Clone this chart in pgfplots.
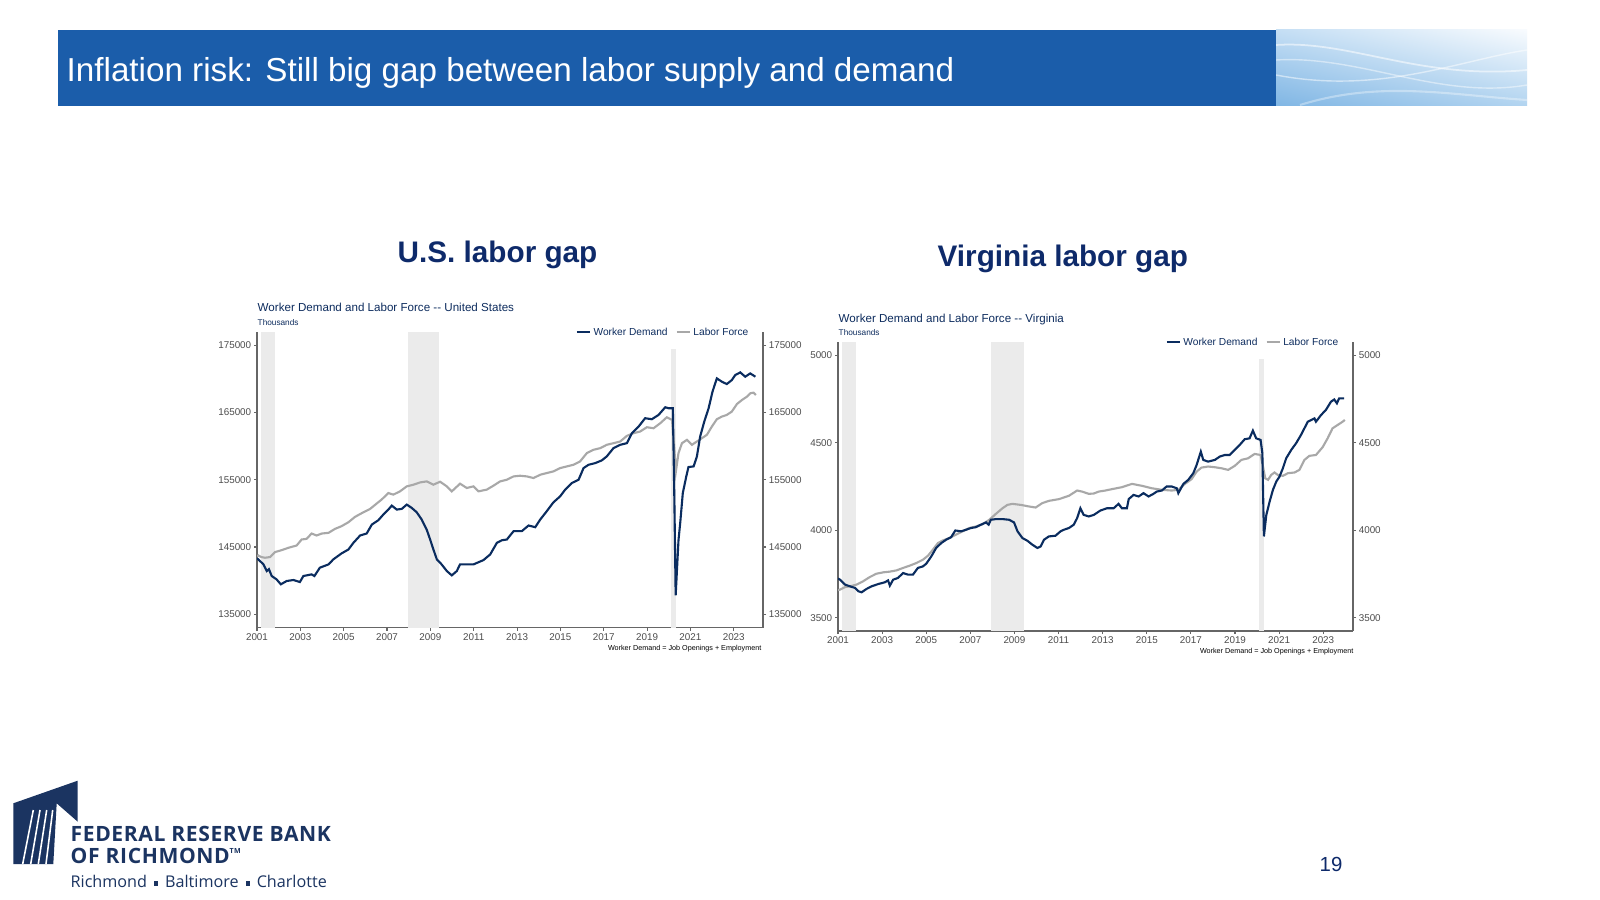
\documentclass[border=0pt]{standalone}
\usepackage{fontspec}
\setmainfont{Liberation Sans}
\newfontfamily\logofont{Open Sans}
\usepackage{pgfplots}
\pgfplotsset{compat=1.18}
\usetikzlibrary{shadings}
\definecolor{bannerblue}{HTML}{1B5DAA}
\definecolor{titlenavy}{HTML}{0E2A6A}
\definecolor{subnavy}{HTML}{0D2C5E}
\definecolor{linenavy}{HTML}{0A2C5F}
\definecolor{linegray}{HTML}{A8A8A8}
\definecolor{shadegray}{HTML}{EBEBEB}
\definecolor{tickgray}{HTML}{4D4D4D}
\definecolor{axgray}{HTML}{666666}
\definecolor{logonavy}{HTML}{1B3461}
\definecolor{gUL}{RGB}{196,222,244}
\definecolor{gUR}{RGB}{248,251,254}
\definecolor{gLL}{RGB}{128,182,228}
\definecolor{gLR}{RGB}{178,212,240}
\pgfplotsset{
  labgap/.style={
    scale only axis, xmin=2001, xmax=2024.35,
    axis line style={-, draw=axgray, line width=0.35pt},
    tick style={draw=axgray, line width=0.3pt},
    major tick length=0.3mm, tick align=outside,
    ticklabel style={font=\fontsize{2.8}{3}\selectfont, text=tickgray, inner sep=0.6pt},
    /pgf/number format/fixed,
    /pgf/number format/precision=0,
    /pgf/number format/assume math mode=true,
    /pgf/number format/1000 sep={},
    scaled ticks=false,
    clip=true,
  },
  lableg/.style={
    legend style={at={(0.985,0.99)}, anchor=east, draw=none, fill=white,
      font=\fontsize{2.9}{3.2}\selectfont, text=subnavy, inner xsep=1.2pt, inner ysep=1.7pt,
      /tikz/every even column/.append style={column sep=0.6mm},
      nodes={inner xsep=0.6pt, inner ysep=0.5pt}},
    legend columns=2,
    legend image code/.code={\draw[##1] (0mm,0.8pt) -- (1.35mm,0.8pt);},
  },
}
\begin{document}
\begin{tikzpicture}[x=0.1mm,y=-0.1mm]
\path[fill=white] (0,0) rectangle (1600,900);
% banner
\fill[bannerblue] (58,30) rectangle (1276,105.7);
\shade[upper left=gUL, upper right=gUR, lower left=gLL, lower right=gLR]
  (1276,30) rectangle (1527,105.7);
\begin{scope}
\clip (1276,30) rectangle (1527,105.7);
\draw[white, opacity=0.55, line width=0.5pt] (1276,45) .. controls (1350,40) and (1420,80) .. (1527,70);
\draw[white, opacity=0.45, line width=0.4pt] (1276,60) .. controls (1360,55) and (1440,100) .. (1527,85);
\draw[white, opacity=0.5, line width=0.4pt] (1276,75) .. controls (1380,95) and (1460,60) .. (1527,50);
\draw[white, opacity=0.35, line width=0.6pt] (1300,105) .. controls (1380,80) and (1450,95) .. (1527,100);
\end{scope}
\node[anchor=base west, inner sep=0, text=white, font=\fontsize{9.45}{11}\selectfont] at (66,82) {Inflation risk: Still big gap between labor supply and demand};
% chart titles
\node[anchor=base west, inner sep=0, text=titlenavy, font=\bfseries\fontsize{8.45}{10}\selectfont] at (397,263) {U.S. labor gap};
\node[anchor=base west, inner sep=0, text=titlenavy, font=\bfseries\fontsize{8.45}{10}\selectfont] at (937,267) {Virginia labor gap};
% subtitles
\node[anchor=base west, inner sep=0, text=subnavy, font=\fontsize{3.3}{4}\selectfont] at (257,311) {Worker Demand and Labor Force -{}- United States};
\node[anchor=base west, inner sep=0, text=subnavy, font=\fontsize{2.35}{3}\selectfont] at (257,325.5) {Thousands};
\node[anchor=base west, inner sep=0, text=subnavy, font=\fontsize{3.3}{4}\selectfont] at (838,322) {Worker Demand and Labor Force -{}- Virginia};
\node[anchor=base west, inner sep=0, text=subnavy, font=\fontsize{2.35}{3}\selectfont] at (838,336) {Thousands};
% footnotes
\node[anchor=base east, inner sep=0, text=black, font=\fontsize{2.05}{2.5}\selectfont] at (762,650) {Worker Demand = Job Openings + Employment};
\node[anchor=base east, inner sep=0, text=black, font=\fontsize{2.05}{2.5}\selectfont] at (1354,653) {Worker Demand = Job Openings + Employment};

% ===== US chart =====
\coordinate (usSW) at (257,627.7);
\begin{axis}[labgap, lableg, at={(usSW)}, anchor=south west, width=50.6mm, height=29.6mm,
  ymin=133000, ymax=177000,
  axis x line*=bottom, axis y line*=left,
  xtick={2001,2003,...,2023}, ytick={135000,145000,...,175000},
]
\addplot[draw=none, fill=shadegray, forget plot] coordinates {(2001.17,133000) (2001.17,177000) (2001.83,177000) (2001.83,133000)} -- cycle;
\addplot[draw=none, fill=shadegray, forget plot] coordinates {(2007.95,133000) (2007.95,177000) (2009.42,177000) (2009.42,133000)} -- cycle;
\addplot[draw=none, fill=shadegray, forget plot] coordinates {(2020.1,133000) (2020.1,177000) (2020.33,177000) (2020.33,133000)} -- cycle;
\addplot[linegray, line width=0.6pt, forget plot] coordinates {
(2001.0,143600) (2001.06,143740) (2001.2,143500) (2001.37,143400) (2001.6,143500) (2001.83,144240)
(2002.14,144530) (2002.45,144880) (2002.83,145220) (2003.06,146110) (2003.29,146210) (2003.52,147000)
(2003.75,146710) (2003.99,147000) (2004.3,147100) (2004.6,147690) (2004.9,148090) (2005.22,148680)
(2005.52,149470) (2005.91,150160) (2006.22,150660) (2006.52,151450) (2006.75,152040) (2007.06,153020)
(2007.29,152780) (2007.6,153270) (2007.91,154010) (2008.22,154260) (2008.53,154600) (2008.83,154750)
(2009.14,154260) (2009.45,154700) (2009.76,154010) (2009.99,153270) (2010.37,154410) (2010.68,153770)
(2010.99,154010) (2011.22,153270) (2011.6,153520) (2011.91,154110) (2012.22,154750) (2012.53,155000)
(2012.84,155490) (2013.14,155590) (2013.45,155490) (2013.76,155250) (2014.07,155740) (2014.37,155990)
(2014.68,156240) (2014.99,156730) (2015.3,156980) (2015.6,157220) (2015.91,157720) (2016.22,158950)
(2016.53,159450) (2016.84,159690) (2017.14,160190) (2017.45,160430) (2017.76,160680) (2018.07,161520)
(2018.38,161920) (2018.68,162160) (2018.99,162800) (2019.3,162650) (2019.61,163400) (2019.91,164280)
(2020.15,163890) (2020.25,159940) (2020.33,156240) (2020.45,158950) (2020.61,160430) (2020.84,160920)
(2021.07,160190) (2021.3,160680) (2021.53,161170) (2021.76,161670) (2021.99,162900) (2022.22,163990)
(2022.45,164380) (2022.68,164630) (2022.91,165120) (2023.15,166260) (2023.38,166850) (2023.61,167350)
(2023.76,167840) (2023.91,167940) (2024.02,167590)};
\addplot[linenavy, line width=0.6pt, forget plot] coordinates {
(2001.0,143300) (2001.06,143150) (2001.3,142410) (2001.45,141420) (2001.55,141700) (2001.68,140680)
(2001.9,140190) (2002.1,139450) (2002.37,139940) (2002.68,140090) (2002.98,139790) (2003.14,140680)
(2003.52,140930) (2003.65,140680) (2003.9,141920) (2004.3,142410) (2004.52,143150) (2004.9,144040)
(2005.22,144630) (2005.45,145620) (2005.76,146710) (2006.06,147000) (2006.3,148330) (2006.6,148980)
(2006.83,149820) (2007.06,150560) (2007.22,151150) (2007.45,150560) (2007.68,150660) (2007.91,151300)
(2008.14,150810) (2008.37,150160) (2008.6,149080) (2008.83,147590) (2008.99,146110) (2009.14,144630)
(2009.3,143150) (2009.52,142410) (2009.76,141420) (2009.99,140780) (2010.22,141420) (2010.37,142410)
(2010.6,142410) (2010.99,142410) (2011.45,143050) (2011.76,143890) (2012.07,145620) (2012.3,146000)
(2012.53,146110) (2012.84,147350) (2013.22,147350) (2013.53,148190) (2013.84,147940) (2014.07,149080)
(2014.37,150310) (2014.68,151640) (2014.99,152530) (2015.22,153520) (2015.53,154510) (2015.84,155000)
(2016.07,156730) (2016.3,157220) (2016.61,157470) (2016.91,157870) (2017.14,158460) (2017.45,159690)
(2017.76,160190) (2018.07,160430) (2018.3,161920) (2018.61,162900) (2018.91,164140) (2019.22,163990)
(2019.53,164630) (2019.84,165770) (2020.0,165620) (2020.19,165620) (2020.26,152000) (2020.32,137800)
(2020.45,146000) (2020.53,148580) (2020.65,153030) (2020.81,155490) (2020.91,156880) (2021.15,156980)
(2021.3,158460) (2021.45,161420) (2021.64,163640) (2021.84,165620) (2022.02,168090) (2022.22,170060)
(2022.45,169570) (2022.68,169220) (2022.91,169810) (2023.07,170560) (2023.3,170950) (2023.53,170310)
(2023.76,170800) (2024.0,170310)};
\addlegendimage{linenavy, line width=0.6pt}
\addlegendentry{Worker Demand}
\addlegendimage{linegray, line width=0.6pt}
\addlegendentry{Labor Force}
\end{axis}
\begin{axis}[labgap, at={(usSW)}, anchor=south west, width=50.6mm, height=29.6mm,
  ymin=133000, ymax=177000, xtick=\empty,
  axis x line=none, axis y line*=right, ytick={135000,145000,...,175000}]
\addplot[draw=none, forget plot] coordinates {(2001,135000) (2024,175000)};
\end{axis}

% ===== Virginia chart =====
\coordinate (vaSW) at (838,631);
\begin{axis}[labgap, lableg, at={(vaSW)}, anchor=south west, width=51.5mm, height=28.9mm,
  ymin=3425, ymax=5075,
  axis x line*=bottom, axis y line*=left,
  xtick={2001,2003,...,2023}, ytick={3500,4000,...,5000},
]
\addplot[draw=none, fill=shadegray, forget plot] coordinates {(2001.17,3425) (2001.17,5075) (2001.83,5075) (2001.83,3425)} -- cycle;
\addplot[draw=none, fill=shadegray, forget plot] coordinates {(2007.95,3425) (2007.95,5075) (2009.42,5075) (2009.42,3425)} -- cycle;
\addplot[draw=none, fill=shadegray, forget plot] coordinates {(2020.08,3425) (2020.08,5075) (2020.31,5075) (2020.31,3425)} -- cycle;
\addplot[linegray, line width=0.6pt, forget plot] coordinates {
(2001.0,3658) (2001.09,3661) (2001.32,3676) (2001.54,3680) (2001.84,3690) (2002.14,3709) (2002.44,3733)
(2002.74,3752) (2003.05,3760) (2003.35,3764) (2003.65,3771) (2003.95,3785) (2004.25,3798) (2004.55,3813)
(2004.85,3832) (2005.08,3855) (2005.3,3889) (2005.53,3927) (2005.75,3942) (2006.05,3956) (2006.35,3975)
(2006.65,3994) (2006.95,4013) (2007.26,4022) (2007.56,4035) (2007.86,4060) (2008.16,4094) (2008.46,4126)
(2008.68,4145) (2008.91,4151) (2009.29,4145) (2009.66,4136) (2009.96,4130) (2010.26,4155) (2010.56,4168)
(2011.02,4178) (2011.47,4197) (2011.84,4227) (2012.07,4221) (2012.37,4208) (2012.6,4210) (2012.82,4221)
(2013.12,4227) (2013.42,4235) (2013.87,4246) (2014.33,4265) (2014.78,4254) (2015.23,4240) (2015.68,4231)
(2016.13,4227) (2016.43,4231) (2016.73,4265) (2017.03,4292) (2017.26,4335) (2017.48,4358) (2017.78,4364)
(2018.09,4360) (2018.39,4354) (2018.69,4345) (2018.99,4368) (2019.29,4402) (2019.59,4411) (2019.89,4436)
(2020.16,4430) (2020.27,4364) (2020.37,4297) (2020.5,4288) (2020.64,4316) (2020.79,4330) (2020.94,4316)
(2021.17,4311) (2021.4,4326) (2021.7,4330) (2021.92,4345) (2022.15,4402) (2022.37,4425) (2022.67,4430)
(2022.97,4474) (2023.2,4525) (2023.42,4582) (2023.65,4601) (2023.88,4620) (2023.98,4630)};
\addplot[linenavy, line width=0.6pt, forget plot] coordinates {
(2001.0,3725) (2001.09,3718) (2001.32,3690) (2001.54,3680) (2001.77,3671) (2001.92,3652) (2002.07,3646)
(2002.29,3665) (2002.52,3680) (2002.82,3693) (2003.12,3703) (2003.27,3714) (2003.35,3684) (2003.5,3718)
(2003.72,3728) (2003.95,3756) (2004.17,3747) (2004.4,3747) (2004.62,3785) (2004.85,3794) (2005.0,3809)
(2005.23,3851) (2005.45,3899) (2005.68,3927) (2005.9,3946) (2006.13,3961) (2006.32,3999) (2006.58,3994)
(2006.8,4003) (2007.03,4013) (2007.26,4018) (2007.48,4032) (2007.71,4045) (2007.83,4032) (2007.93,4060)
(2008.16,4064) (2008.46,4064) (2008.76,4060) (2008.98,4045) (2009.14,3994) (2009.36,3956) (2009.59,3940)
(2009.81,3918) (2010.04,3899) (2010.19,3908) (2010.34,3946) (2010.56,3965) (2010.86,3969) (2011.09,3994)
(2011.24,4003) (2011.47,4013) (2011.69,4032) (2011.84,4069) (2011.99,4126) (2012.14,4088) (2012.37,4079)
(2012.6,4088) (2012.9,4113) (2013.2,4126) (2013.5,4126) (2013.72,4151) (2013.87,4126) (2014.1,4126)
(2014.18,4178) (2014.4,4202) (2014.63,4193) (2014.85,4212) (2015.08,4193) (2015.3,4208) (2015.45,4221)
(2015.68,4227) (2015.9,4250) (2016.13,4250) (2016.36,4240) (2016.43,4212) (2016.66,4265) (2016.88,4288)
(2017.11,4326) (2017.26,4373) (2017.45,4449) (2017.56,4402) (2017.78,4392) (2018.09,4402) (2018.31,4421)
(2018.54,4430) (2018.76,4430) (2018.99,4459) (2019.21,4487) (2019.44,4520) (2019.66,4525) (2019.81,4569)
(2019.96,4525) (2020.16,4516) (2020.24,4440) (2020.31,3965) (2020.42,4088) (2020.57,4164) (2020.72,4231)
(2020.87,4278) (2021.02,4307) (2021.17,4354) (2021.32,4411) (2021.55,4459) (2021.77,4497) (2021.99,4544)
(2022.3,4620) (2022.6,4639) (2022.67,4620) (2022.9,4658) (2023.12,4687) (2023.35,4734) (2023.5,4747)
(2023.62,4725) (2023.72,4753) (2023.95,4753)};
\addlegendimage{linenavy, line width=0.6pt}
\addlegendentry{Worker Demand}
\addlegendimage{linegray, line width=0.6pt}
\addlegendentry{Labor Force}
\end{axis}
\begin{axis}[labgap, at={(vaSW)}, anchor=south west, width=51.5mm, height=28.9mm,
  ymin=3425, ymax=5075, xtick=\empty,
  axis x line=none, axis y line*=right, ytick={3500,4000,...,5000}]
\addplot[draw=none, forget plot] coordinates {(2001,3500) (2024,5000)};
\end{axis}

% ===== logo =====
\fill[logonavy] (13.3,803.3) -- (77.7,780.7) -- (77.7,821.7) -- (56.7,803.3) -- (53.3,864) -- (13.3,864) -- cycle;
\foreach \a/\b in {22.7/33.3, 30.7/40, 38.3/46.7, 46/52.7}
  \draw[white, line width=0.45pt] (\a,864) -- (\b,810);
\node[anchor=base west, inner sep=0, text=logonavy, font=\logofont\bfseries\fontsize{6}{7}\selectfont] at (70,841.7) {\addfontfeature{LetterSpace=2.8}FEDERAL RESERVE BANK};
\node[anchor=base west, inner sep=0, text=logonavy, font=\logofont\bfseries\fontsize{6}{7}\selectfont] at (70,863.3) {\addfontfeature{LetterSpace=2.8}OF RICHMOND\raisebox{0.45em}{\fontsize{2}{2}\selectfont TM}};
\node[anchor=base west, inner sep=0, text=logonavy, font=\logofont\fontsize{4.6}{5.5}\selectfont] at (70,887.7) {Richmond\, \rule[0.25ex]{0.5ex}{0.5ex}\, Baltimore\, \rule[0.25ex]{0.5ex}{0.5ex}\, Charlotte};
% page number
\node[anchor=base west, inner sep=0, text=titlenavy, font=\fontsize{5.8}{7}\selectfont] at (1319,871.5) {19};
\end{tikzpicture}
\end{document}
